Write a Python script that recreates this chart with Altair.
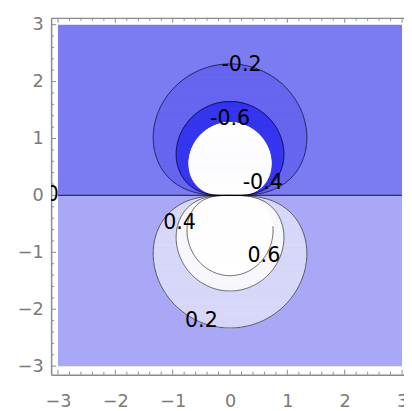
import altair as alt
import numpy as np
import pandas as pd

# ---------------- values ----------------
fill_range = [-3, 3]                 # coloured square
frame_x = [-3.12, 3.034]             # visible frame extent (right side cropped)
frame_y = [-3.15, 3.12]
major_ticks = [-3, -2, -1, 0, 1, 2, 3]
minor_ticks = [-2.8, -2.6, -2.4, -2.2, -1.8, -1.6, -1.4, -1.2, -0.8, -0.6, -0.4, -0.2,
               0.2, 0.4, 0.6, 0.8, 1.2, 1.4, 1.6, 1.8, 2.2, 2.4, 2.6, 2.8]

half_names = ["upper", "lower"]
half_y0 = [0, -3]
half_y1 = [3, 0]
half_colors = ["#7c7cf2", "#a8a8f6"]

# closed contours of the dipole-like field (largest drawn first)
contour_names = ["m02", "m04", "m06", "p02", "p04", "p06"]
contour_levels = [-0.2, -0.4, -0.6, 0.2, 0.4, 0.6]
contour_reach = [2.31, 1.65, 1.28, 2.33, 1.68, 1.41]      # vertical extent from 0
contour_halfwidth = [1.34, 0.94, 0.72, 1.34, 0.94, 0.75]  # widest half width
contour_fill = ["#6666ef", "#3636f0", "#ffffff", "#d9d9fa", "#f8f8fe", "#ffffff"]
contour_has_line = [True, True, False, True, True, True]
contour_line_start_deg = [0, 0, 0, 0, 0, 32]

label_text = ["-0.2", "-0.6", "-0.4", "0", "0.4", "0.6", "0.2"]
label_x = [0.20, 0.0, 0.57, -3.10, -0.88, 0.59, -0.50]
label_y = [2.29, 1.34, 0.21, 0.0, -0.48, -1.07, -2.21]

# ---------------- build tables ----------------
W, H = 360, 364
gray = "#8a8a8a"
font = "DejaVu Sans"

df_half = pd.DataFrame({"name": half_names, "x0": fill_range[0], "x1": fill_range[1],
                        "y0": half_y0, "y1": half_y1})
df_zero = pd.DataFrame({"x0": [fill_range[0]], "x1": [fill_range[1]], "y": [0]})

slice_rows, line_rows = [], []
for name, lev, R, Wd, has_line, start in zip(contour_names, contour_levels, contour_reach,
                                             contour_halfwidth, contour_has_line,
                                             contour_line_start_deg):
    s = 1 if lev < 0 else -1
    k = Wd / (R * np.sqrt(2 / (3 * np.sqrt(3))))
    th = np.linspace(0, np.pi / 2, 220)
    sn = np.sin(th)
    yy = s * R * sn ** 1.5
    xx = k * R * np.sqrt(sn) * np.cos(th)
    for j in range(len(th) - 1):
        hw = 0.5 * (xx[j] + xx[j + 1])
        slice_rows.append({"blob": name, "y0": yy[j], "y1": yy[j + 1],
                           "xl": -hw, "xr": hw})
    if has_line:
        th2 = np.linspace(np.radians(start), np.pi, 320)
        for i, t in enumerate(th2):
            sv = max(np.sin(t), 0.0)
            line_rows.append({"blob": name, "i": i,
                              "x": k * R * np.sqrt(sv) * np.cos(t),
                              "y": s * R * sv ** 1.5})
df_slice = pd.DataFrame(slice_rows)
df_line = pd.DataFrame(line_rows)
df_lab = pd.DataFrame({"text": label_text, "x": label_x, "y": label_y})

xs = alt.Scale(domain=frame_x, nice=False, zero=False)
ys = alt.Scale(domain=frame_y, nice=False, zero=False)

x_axis = alt.Axis(values=major_ticks, ticks=False, grid=False, title=None, domain=True,
                  domainColor=gray, domainWidth=1.5, labelFont=font, labelFontSize=18,
                  labelColor="#7a7a7a", labelPadding=18, labelFlush=False, labelOverlap=False)
y_axis = alt.Axis(values=major_ticks, ticks=False, grid=False, title=None, domain=True,
                  domainColor=gray, domainWidth=1.5, labelFont=font, labelFontSize=18,
                  labelColor="#7a7a7a", labelPadding=8, labelFlush=False, labelOverlap=False)
top_axis = alt.Axis(orient="top", labels=False, ticks=False, grid=False, title=None,
                    domain=True, domainColor=gray, domainWidth=1.5)

layers = []
layers.append(alt.Chart(df_half).mark_rect().encode(
    x=alt.X("x0:Q", scale=xs, axis=x_axis), x2="x1:Q",
    y=alt.Y("y0:Q", scale=ys, axis=y_axis), y2="y1:Q",
    color=alt.Color("name:N", scale=alt.Scale(domain=half_names, range=half_colors), legend=None)))

for name, col in zip(contour_names, contour_fill):
    layers.append(alt.Chart(df_slice).transform_filter(alt.datum.blob == name)
                  .mark_rect(color=col, stroke=col, strokeWidth=0.6, opacity=1)
                  .encode(y=alt.Y("y0:Q", scale=ys, axis=None), y2="y1:Q",
                          x=alt.X("xl:Q", scale=xs, axis=None), x2="xr:Q"))

layers.append(alt.Chart(df_line).mark_line(color="black", strokeOpacity=0.62, strokeWidth=1)
              .encode(x=alt.X("x:Q", scale=xs, axis=None), y=alt.Y("y:Q", scale=ys, axis=None),
                      detail="blob:N", order="i:Q"))

layers.append(alt.Chart(df_zero).mark_rule(color="black", strokeOpacity=0.7, strokeWidth=1.3)
              .encode(x=alt.X("x0:Q", scale=xs, axis=None), x2="x1:Q",
                      y=alt.Y("y:Q", scale=ys, axis=None)))

# inward frame ticks
df_major = pd.DataFrame({"t": major_ticks})
df_minor = pd.DataFrame({"t": minor_ticks})
for df_t, ln in [(df_major, 5), (df_minor, 3)]:
    layers.append(alt.Chart(df_t).mark_rule(color=gray, strokeWidth=1).encode(
        x=alt.X("t:Q", scale=xs, axis=None), y=alt.value(H), y2=alt.value(H - ln)))
    layers.append(alt.Chart(df_t).mark_rule(color=gray, strokeWidth=1).encode(
        x=alt.X("t:Q", scale=xs, axis=None), y=alt.value(0), y2=alt.value(ln)))
    layers.append(alt.Chart(df_t).mark_rule(color=gray, strokeWidth=1).encode(
        y=alt.Y("t:Q", scale=ys, axis=None), x=alt.value(0), x2=alt.value(ln)))

# top frame line via a top-oriented axis
layers.append(alt.Chart(df_major).mark_rule(opacity=0).encode(
    x=alt.X("t:Q", scale=xs, axis=top_axis), y=alt.value(0), y2=alt.value(1)))

layers.append(alt.Chart(df_lab).mark_text(font=font, fontSize=21, color="black",
                                          align="center", baseline="middle", clip=True)
              .encode(x=alt.X("x:Q", scale=xs, axis=None), y=alt.Y("y:Q", scale=ys, axis=None),
                      text="text:N"))

chart = (alt.layer(*layers)
         .resolve_axis(x="independent", y="independent")
         .properties(width=W, height=H, autosize=alt.AutoSizeParams(type="none"),
                     padding={"left": 44, "top": 6, "right": 0, "bottom": 33},
                     background="white")
         .configure_view(stroke=None))

chart.save("out.html", embed_options={"renderer": "svg", "actions": False})
